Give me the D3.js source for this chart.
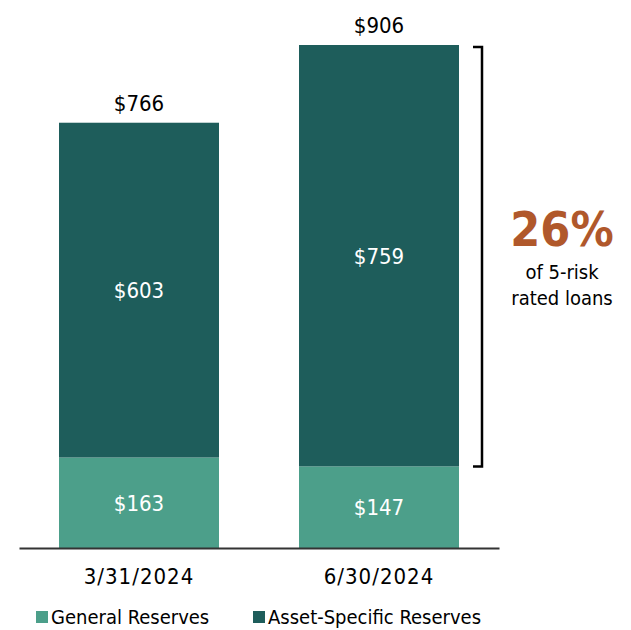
<!DOCTYPE html>
<html>
<head>
<meta charset="utf-8">
<script src="https://cdn.jsdelivr.net/npm/d3@7"></script>
<style>
  body { margin: 0; background: #fff; }
  svg text { font-family: "DejaVu Sans", sans-serif; font-stretch: condensed; }
</style>
</head>
<body>
<div id="chart"></div>
<script>
// Data
var categories = ["3/31/2024", "6/30/2024"];
var general = [163, 147];
var assetSpecific = [603, 759];
var totals = [766, 906];
var seriesNames = ["General Reserves", "Asset-Specific Reserves"];
var colors = ["#4c9f8a", "#1e5d5b"];

var width = 631, height = 630;
var svg = d3.select("#chart").append("svg")
  .attr("width", width).attr("height", height);

var x = d3.scaleBand().domain(categories).range([19, 499]).paddingInner(1 / 3).paddingOuter(1 / 6);
var y = d3.scaleLinear().domain([0, 906]).range([548, 45]);

var stacked = d3.stack().keys([0, 1]).value(function(d, k) { return d[k]; })(
  categories.map(function(c, i) { return [general[i], assetSpecific[i]]; })
);

stacked.forEach(function(layer, li) {
  svg.append("g").selectAll("rect")
    .data(layer)
    .enter().append("rect")
    .attr("x", function(d, i) { return x(categories[i]); })
    .attr("width", x.bandwidth())
    .attr("y", function(d) { return y(d[1]); })
    .attr("height", function(d) { return y(d[0]) - y(d[1]); })
    .attr("fill", colors[li]);

  svg.append("g").selectAll("text")
    .data(layer)
    .enter().append("text")
    .attr("x", function(d, i) { return x(categories[i]) + x.bandwidth() / 2; })
    .attr("y", function(d) { return (y(d[0]) + y(d[1])) / 2 + 8; })
    .attr("text-anchor", "middle")
    .attr("fill", "#fff")
    .attr("font-size", 22)
    .text(function(d) { return "$" + (d[1] - d[0]); });
});

// totals
svg.append("g").selectAll("text")
  .data(totals)
  .enter().append("text")
  .attr("x", function(d, i) { return x(categories[i]) + x.bandwidth() / 2; })
  .attr("y", function(d) { return y(d) - 12; })
  .attr("text-anchor", "middle")
  .attr("fill", "#000")
  .attr("font-size", 22)
  .text(function(d) { return "$" + d; });

// axis
var axis = svg.append("g")
  .attr("transform", "translate(0,548)")
  .call(d3.axisBottom(x).tickSize(0).tickPadding(20));
axis.select(".domain").attr("stroke", "#333").attr("stroke-width", 2);
axis.selectAll("text").attr("font-size", 22).attr("fill", "#000")
  .attr("letter-spacing", 1)
  .style("font-family", "DejaVu Sans").style("font-stretch", "condensed");

// bracket
var bx = 482, bTop = y(906) + 2, bBot = y(147);
svg.append("path")
  .attr("d", "M" + (bx - 9) + "," + bTop + "H" + bx + "V" + bBot + "H" + (bx - 9))
  .attr("fill", "none").attr("stroke", "#000").attr("stroke-width", 2.5);

svg.append("text").attr("x", 562).attr("y", 246).attr("text-anchor", "middle")
  .attr("font-size", 48).attr("font-weight", "bold").attr("fill", "#b0582b").text("26%");
svg.append("text").attr("x", 562).attr("y", 279).attr("text-anchor", "middle")
  .attr("font-size", 20).attr("fill", "#000").text("of 5-risk");
svg.append("text").attr("x", 562).attr("y", 305).attr("text-anchor", "middle")
  .attr("font-size", 20).attr("fill", "#000").text("rated loans");

// legend
var legendX = [36, 253];
var lg = svg.append("g").selectAll("g").data(seriesNames).enter().append("g")
  .attr("transform", function(d, i) { return "translate(" + legendX[i] + ",611)"; });
lg.append("rect").attr("width", 12).attr("height", 12).attr("fill", function(d, i) { return colors[i]; });
lg.append("text").attr("x", 15).attr("y", 13).attr("font-size", 20).attr("fill", "#000")
  .text(function(d) { return d; });
</script>
</body>
</html>
